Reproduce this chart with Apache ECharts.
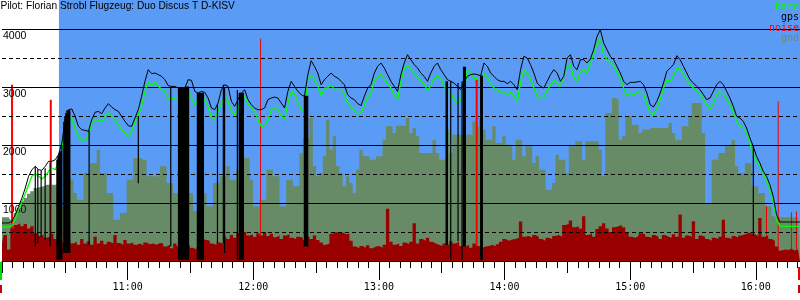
<!DOCTYPE html>
<html><head><meta charset="utf-8">
<script src="https://cdn.jsdelivr.net/npm/echarts@6/dist/echarts.min.js"></script>
<style>html,body{margin:0;padding:0;background:#fff}#c{width:800px;height:300px}</style>
</head><body><div id="c"></div>
<script>
// ---------- text ----------
const chartTitle = 'Pilot: Florian Strobl Flugzeug: Duo Discus T D-KISV';
const legendNames = ['baro', 'gps', 'noise', 'gnd'];

// ---------- time base (minutes since midnight) ----------
const sampleStart = 600;       // 10:00
const sampleStep = 1.5875;     // minutes between samples
const axisStart = 600;
const axisEnd = 981.1;
const taskStart = 627.2;       // start of shaded (blue) period

// ---------- series values (m) ----------
const baro = [586,586,586,609,724,874,1029,1161,1316,1460,
1506,1460,1414,1460,1546,1603,1575,1690,1919,2333,
2494,2448,2293,2138,2069,2063,2178,2368,2437,2425,
2408,2494,2552,2494,2437,2351,2264,2207,2149,2236,
2408,2523,2667,2925,3098,3011,3098,3011,
2965,2925,2782,2805,2793,2782,2827,2868,2954,2810,
2695,2782,2850,2782,2655,2483,2448,2580,2724,2827,
2753,2598,2506,2621,2782,2839,2713,2638,2580,2437,
2322,2333,2437,2609,2638,2609,2506,2448,2724,2925,
2885,2736,2621,2580,3155,3195,3126,3023,
2850,2983,2983,3040,2954,2965,2954,2885,2724,2638,
2598,2534,2552,2695,2827,2896,3115,3172,3213,3126,
3057,2983,2868,2782,3098,3328,3373,3299,3230,3172,
3115,3057,2942,3023,3144,3201,3149,3011,2925,2908,
2782,2724,2782,2942,3287,3241,3155,3138,
3098,3241,3172,3057,2983,2954,2908,2925,2868,2914,
2850,2753,3080,3299,3241,3126,2983,2839,2810,2827,
2937,3040,3115,3057,3011,3195,3356,3385,3155,3109,
3270,3310,3241,3402,3575,3747,3828,3557,3471,3414,
3356,3270,3155,2983,2839,2896,2868,2908,
2925,2868,2724,2552,2523,2638,2782,2983,3126,3098,
3184,3328,3310,3213,3126,3040,2983,2925,2868,2782,
2695,2609,2724,2868,2925,2868,2782,2695,2580,2408,
2333,2293,2207,2034,1833,1718,1632,1517,1374,1230,
1029,713,598,598,598,598,598,598,598];

const gps = [655,655,655,684,799,943,1086,1259,1460,1575,
1632,1575,1563,1632,1718,1718,1747,1833,2034,2437,
2609,2621,2494,2322,2264,2253,2236,2437,2563,2580,
2540,2638,2713,2655,2609,2580,2494,2408,2333,2322,
2465,2609,2839,3098,3299,3230,3241,3213,
3184,3126,3023,3011,3011,2983,2983,2983,3126,3115,
2925,2896,2925,2908,2810,2638,2609,2724,2954,3040,
3011,2753,2667,2782,2896,2954,2782,2695,2638,2609,
2609,2638,2782,2810,2827,2810,2724,2638,2925,3098,
3011,2925,2868,2839,3213,3454,3356,3241,
3040,3126,3184,3241,3184,3155,3098,3040,2868,2810,
2782,2713,2678,2839,2983,3040,3241,3356,3414,3328,
3213,3098,3011,2925,3213,3414,3557,3471,3385,3328,
3241,3184,3098,3241,3356,3414,3299,3213,3126,3098,
3069,3011,2954,3098,3184,3213,3224,3213,
3195,3414,3356,3241,3184,3126,3098,3098,3057,3098,
3040,2954,3299,3529,3500,3385,3241,3069,3011,2983,
3098,3213,3299,3241,3098,3184,3500,3557,3356,3299,
3471,3471,3414,3483,3644,3873,3988,3759,3644,3529,
3471,3356,3241,3098,3040,3080,3080,3086,
3098,3040,2896,2695,2655,2753,2896,3069,3270,3328,
3385,3540,3471,3356,3241,3126,3069,3011,2954,2868,
2782,2810,2925,3040,3098,3040,2925,2810,2667,2494,
2465,2408,2293,2121,1977,1805,1690,1546,1460,1316,
1115,799,672,672,672,672,672,672,672];

const gnd = [753,753,753,713,828,914,1029,1086,1161,1201,1259,1276,1287,1316,1316,1316,1316,
1172,943,828,1575,1402,1172,1057,1057,1517,1517,1690,1690,1919,1517,1517,1172,1172,713,713,828,828,1402,1402,1776,1776,1747,1747,1460,1460,1460,1460,
1632,1632,1345,1345,1172,1172,943,943,1172,1172,856,856,1172,1172,943,943,1345,1345,1460,1460,
1632,1402,1402,1575,1575,1776,1776,1402,943,943,1057,1057,1575,1575,1460,1460,943,943,1402,1402,
1287,1287,1862,2121,2121,2465,1632,1460,
1517,1805,2437,1919,2149,1632,1517,1287,1460,1345,1172,1575,1919,1805,1805,1747,1747,1805,1805,2092,
2322,2322,2207,2333,2333,2333,2465,2207,2293,2149,1862,1862,1862,1862,2092,1862,1747,1747,2264,1862,
2178,2178,2178,2178,2178,2178,2408,2322,
2465,2264,2092,2092,2322,2034,2034,2149,2006,2006,1747,2092,2092,1805,1977,1977,1690,1805,1575,1575,
1230,1230,1345,1833,1747,1747,1517,1977,1977,2063,2063,1747,2063,2063,2063,2063,1919,1460,2552,2552,
2810,2782,2092,2149,2494,2494,2351,2351,
2207,2264,2264,2293,2293,2293,2293,2293,2293,2379,2207,2092,2092,2322,2322,2494,2724,2724,2724,2207,
1000,1000,1747,1747,1862,1862,1977,1977,2092,1632,1517,1517,1690,1690,1287,1287,1172,1172,943,943,
770,753,753,753,753,753,753,753,753];

const noise = [300,450,200,560,620,650,600,640,560,600,480,430,450,400,420,470,380,340,320,280,
350,300,330,280,380,300,340,280,420,300,350,290,330,300,450,310,280,360,300,320,
280,300,270,320,290,300,280,310,
300,250,280,220,300,260,330,250,280,230,200,240,380,360,350,300,280,320,300,420,
380,450,400,480,420,500,440,460,420,480,440,500,430,470,410,440,380,440,460,400,
380,420,400,360,420,380,440,360,
320,280,300,470,500,480,490,460,470,350,250,220,260,230,270,220,250,260,230,280,
900,330,280,300,260,320,290,330,650,300,380,350,400,330,300,280,260,300,280,340,
300,330,260,250,280,230,300,260,
230,250,260,280,250,290,330,380,350,370,380,400,680,420,430,400,450,420,380,350,
400,380,430,450,420,620,640,700,580,600,560,770,450,480,420,550,600,650,560,500,
580,600,620,580,500,420,400,430,
480,460,420,400,450,420,380,450,420,400,460,420,800,400,440,420,684,380,440,420,
380,350,400,380,420,713,400,380,430,400,440,460,480,500,460,430,740,420,440,380,
350,250,180,200,190,210,180,200,190];

// gps drop-outs: time, value at top, value at bottom
const gpsDropTime = [615.9,617.1,618.7,620.6,623.0,
626.2,626.7,627.1,627.6,628.1,628.6,
629.5,630.0,630.5,631.0,631.4,631.9,632.4,
641.6,665.1,680.6,
684.3,684.8,685.2,685.7,686.2,686.7,687.1,687.6,688.1,688.6,689.1,
693.3,693.8,694.3,694.8,695.2,695.7,696.2,
702.9,705.7,706.3,712.4,713.3,713.8,714.3,714.8,715.3,
744.4,744.9,745.4,746.0,
812.1,812.7,814.3,817.8,819.7,820.4,820.9,821.3,
828.6,829.1,829.4,958.8];
const gpsDropTop = [1630,1580,1560,1600,1700,
1750,1800,1850,1880,1900,2000,
2400,2500,2550,2600,2600,2600,2600,
2250,2500,3010,
3000,3000,3000,3000,3000,3000,3000,3010,3010,3010,3010,
2900,2900,2900,2900,2900,2900,2900,
2700,3040,3000,2950,2900,2900,2900,2900,2900,
2850,2850,2850,2850,
3100,3100,3100,3070,3100,3350,3350,3350,
3200,3200,3200,1980];
const gpsDropBottom = [250,310,420,370,250,
20,20,20,20,20,20,
140,140,140,140,140,140,140,
280,1340,250,
20,20,20,20,20,20,20,20,20,20,20,
20,20,20,20,20,20,20,
310,310,140,20,20,20,20,20,20,
250,250,250,250,
280,280,20,340,20,250,250,250,
20,20,20,425];

// noise peaks: time, top value
const noisePeakTime = [604.8, 623.3, 826.7];
const noisePeakTop = [3040, 2780, 3120];
const noiseNeedleTime = [723.5, 965.1, 970.7, 977.0, 979.4];
const noiseNeedleTop = [3833, 943, 2753, 839, 856];

// ---------- build ----------
const withTime = arr => arr.map((v, i) => [sampleStart + i * sampleStep, v]);
const needles = (times, tops, bottoms) => {
  const out = [];
  times.forEach((t, k) => {
    out.push([t, tops[k]]);
    out.push([t, bottoms ? bottoms[k] : 0]);
    out.push([t, '-']);
  });
  return out;
};
const fmtTime = v => {
  if (Math.abs(v % 60) > 1e-6 || v <= axisStart) return '';
  return (v / 60) + ':00';
};

const chart = echarts.init(document.getElementById('c'), null, {renderer: 'canvas'});
const xBase = {type: 'value', min: axisStart, max: axisEnd, position: 'bottom',
  splitLine: {show: false}, z: 10};
chart.setOption({
  animation: false,
  grid: {left: 0, right: 0, top: 0, bottom: 39, containLabel: false},
  xAxis: [
    Object.assign({}, xBase, {interval: 60,
      axisLine: {show: true, lineStyle: {color: '#000', width: 1}},
      axisTick: {show: true, length: 19, lineStyle: {color: '#000'}},
      axisLabel: {formatter: fmtTime, margin: 21, color: '#000',
        fontFamily: 'DejaVu Sans Mono', fontSize: 10, showMinLabel: false, showMaxLabel: false}}),
    Object.assign({}, xBase, {interval: 30,
      axisLine: {show: false}, axisTick: {show: true, length: 12, lineStyle: {color: '#000'}},
      axisLabel: {show: false}}),
    Object.assign({}, xBase, {interval: 5,
      axisLine: {show: false}, axisTick: {show: true, length: 7, lineStyle: {color: '#000'}},
      axisLabel: {show: false}})
  ],
  yAxis: [
    {type: 'value', min: 0, max: 4500, interval: 1000, z: 4,
      axisLine: {show: false}, axisTick: {show: false},
      axisLabel: {inside: true, margin: 1, align: 'left', verticalAlign: 'top',
        padding: [2, 0, 0, 0], color: '#000', fontFamily: 'Liberation Sans', fontSize: 10.5,
        formatter: v => (v > 0 && v <= 4000 && v % 1000 === 0) ? String(v) : ''},
      splitLine: {show: true, showMinLine: false, showMaxLine: false,
        lineStyle: {color: '#000', width: 1}}},
    {type: 'value', min: 0, max: 4500, interval: 500, z: 4,
      axisLine: {show: false}, axisTick: {show: false}, axisLabel: {show: false},
      splitLine: {show: true, showMinLine: false, showMaxLine: false,
        lineStyle: {color: '#000', width: 1, type: [4, 3]}}}
  ],
  series: [
    {name: 'bg', type: 'line', data: [[taskStart, 0]], symbol: 'none', silent: true, z: 1,
      lineStyle: {width: 0},
      markArea: {silent: true, itemStyle: {color: '#5a9bf6'},
        data: [[{xAxis: taskStart}, {xAxis: axisEnd}]]}},
    {name: 'gnd', type: 'line', data: withTime(gnd), step: 'middle', symbol: 'none', z: 2,
      lineStyle: {width: 0}, areaStyle: {color: '#678b67', opacity: 1}},
    {name: 'noisePeaks', type: 'line', data: needles(noisePeakTime, noisePeakTop), symbol: 'none', z: 2.5,
      connectNulls: false, lineStyle: {color: '#ff0000', width: 2}},
    {name: 'noiseNeedles', type: 'line', data: needles(noiseNeedleTime, noiseNeedleTop), symbol: 'none', z: 2.5,
      connectNulls: false, lineStyle: {color: '#ee0000', width: 1}},
    {name: 'noise', type: 'line', data: withTime(noise), step: 'middle', symbol: 'none', z: 3,
      lineStyle: {width: 0}, areaStyle: {color: '#990000', opacity: 1}},
    {name: 'baro', type: 'line', data: withTime(baro), symbol: 'none', z: 5,
      lineStyle: {color: '#00ff00', width: 1.3}},
    {name: 'gpsDrops', type: 'line', data: needles(gpsDropTime, gpsDropTop, gpsDropBottom), symbol: 'none', z: 6,
      connectNulls: false, lineStyle: {color: '#000', width: 1.2}},
    {name: 'gps', type: 'line', data: withTime(gps), symbol: 'none', z: 6,
      lineStyle: {color: '#000', width: 1}}
  ],
  graphic: [
    {type: 'text', x: 0.5, y: 6.5, z: 20, style: {text: chartTitle, fill: '#000',
      font: '10.2px "Liberation Sans"', textVerticalAlign: 'middle'}},
    {type: 'text', x: 799, y: 7, z: 20, style: {text: legendNames[0], fill: '#00ff00',
      font: '10px "DejaVu Sans Mono"', textAlign: 'right', textVerticalAlign: 'middle'}},
    {type: 'text', x: 799, y: 17.5, z: 20, style: {text: legendNames[1], fill: '#000',
      font: '10px "DejaVu Sans Mono"', textAlign: 'right', textVerticalAlign: 'middle'}},
    {type: 'text', x: 799, y: 28, z: 20, style: {text: legendNames[2], fill: '#ff0000',
      font: '10px "DejaVu Sans Mono"', textAlign: 'right', textVerticalAlign: 'middle'}},
    {type: 'text', x: 799, y: 38.5, z: 20, style: {text: legendNames[3], fill: '#6b8e6b',
      font: '10px "DejaVu Sans Mono"', textAlign: 'right', textVerticalAlign: 'middle'}},
    {type: 'rect', shape: {x: 0, y: 262, width: 2, height: 18}, style: {fill: '#00dd00'}, z: 20},
    {type: 'rect', shape: {x: 0, y: 285, width: 2, height: 8}, style: {fill: '#cc0000'}, z: 20},
    {type: 'rect', shape: {x: 798, y: 267, width: 2, height: 13}, style: {fill: '#ee0000'}, z: 20},
    {type: 'rect', shape: {x: 798, y: 285, width: 2, height: 8}, style: {fill: '#cc0000'}, z: 20}
  ]
});
</script></body></html>
